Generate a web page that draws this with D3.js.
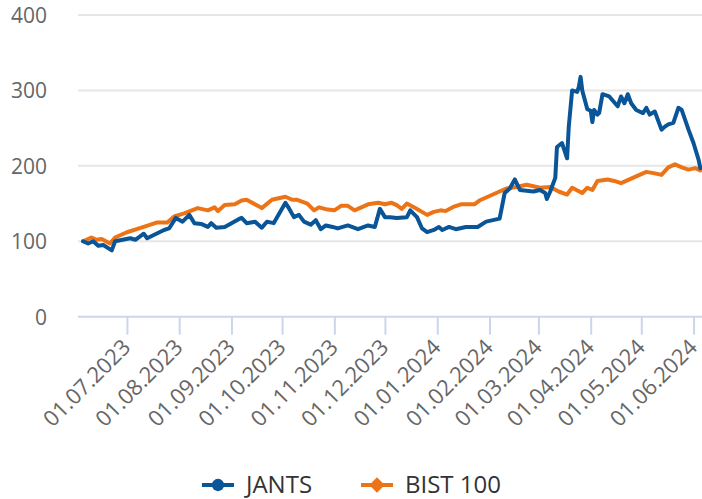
<!DOCTYPE html>
<html lang="tr">
<head>
<meta charset="UTF-8">
<title>JANTS - BIST 100</title>
<script src="https://cdn.jsdelivr.net/npm/d3@7"></script>
<style>
  html, body { margin: 0; padding: 0; background: #fff; }
  svg { display: block; font-family: "Open Sans", sans-serif; }
  .grid line { stroke: #e6e6e6; stroke-width: 2; }
  .ylab { fill: #666; font-size: 21px; }
  .xlab { fill: #666; font-size: 22px; }
  .legend text { fill: #333; font-size: 24px; }
</style>
</head>
<body>
<div id="chart"></div>
<script>
// values (normalised, start = 100)
var jantsDates = ["2023-06-05","2023-06-08","2023-06-11","2023-06-14","2023-06-17","2023-06-22","2023-06-24",
  "2023-07-03","2023-07-06","2023-07-11","2023-07-13","2023-07-23","2023-07-26","2023-07-30",
  "2023-08-03","2023-08-07","2023-08-10","2023-08-14","2023-08-18","2023-08-20","2023-08-23","2023-08-28",
  "2023-09-01","2023-09-05","2023-09-07","2023-09-10","2023-09-15","2023-09-19","2023-09-22","2023-09-26",
  "2023-10-03","2023-10-05","2023-10-08","2023-10-11","2023-10-14","2023-10-18","2023-10-21","2023-10-24","2023-10-27","2023-10-31",
  "2023-11-03","2023-11-09","2023-11-15","2023-11-21","2023-11-25","2023-11-28",
  "2023-12-01","2023-12-04","2023-12-08","2023-12-14","2023-12-16","2023-12-20","2023-12-23","2023-12-26","2023-12-30",
  "2024-01-02","2024-01-04","2024-01-08","2024-01-12","2024-01-18","2024-01-21","2024-01-25","2024-01-30",
  "2024-02-03","2024-02-07","2024-02-10","2024-02-13","2024-02-16","2024-02-19","2024-02-23","2024-02-27",
  "2024-03-02","2024-03-05","2024-03-06","2024-03-08","2024-03-11","2024-03-12","2024-03-15","2024-03-18","2024-03-19",
  "2024-03-21","2024-03-24","2024-03-25","2024-03-26","2024-03-27","2024-03-30",
  "2024-04-01","2024-04-02","2024-04-03","2024-04-05","2024-04-06","2024-04-08","2024-04-12","2024-04-17","2024-04-19",
  "2024-04-21","2024-04-23","2024-04-25","2024-04-28",
  "2024-05-02","2024-05-04","2024-05-06","2024-05-09","2024-05-13","2024-05-15","2024-05-17","2024-05-20","2024-05-23",
  "2024-05-25","2024-05-27","2024-05-29","2024-06-01","2024-06-04","2024-06-05"];
var jantsValues = [100,97,100,94,95,88,100,
  104,102,110,104,115,117,131,
  126,135,124,123,119,124,118,119,
  124,129,131,124,126,118,126,124,
  151,144,132,135,126,122,128,116,121,119,
  117,121,116,121,119,143,
  132,132,131,132,141,132,117,112,115,
  119,115,119,116,119,119,119,126,
  128,130,164,170,182,168,167,166,
  168,164,156,166,184,225,230,210,252,
  300,298,305,318,300,275,
  273,258,274,268,270,295,292,279,292,
  283,295,283,274,
  270,277,268,272,248,252,255,257,277,
  274,261,248,230,208,197];

var bistDates = ["2023-06-05","2023-06-10","2023-06-13","2023-06-16","2023-06-21","2023-06-24",
  "2023-07-01","2023-07-11","2023-07-19","2023-07-25","2023-07-29",
  "2023-08-04","2023-08-12","2023-08-18","2023-08-22","2023-08-24","2023-08-28",
  "2023-09-03","2023-09-07","2023-09-10","2023-09-19","2023-09-25",
  "2023-10-03","2023-10-07","2023-10-10","2023-10-16","2023-10-20","2023-10-23","2023-10-28",
  "2023-11-01","2023-11-05","2023-11-09","2023-11-13","2023-11-17","2023-11-21","2023-11-27",
  "2023-12-01","2023-12-05","2023-12-08","2023-12-11","2023-12-14","2023-12-19","2023-12-26","2023-12-30",
  "2024-01-03","2024-01-06","2024-01-11","2024-01-15","2024-01-23","2024-01-26","2024-01-31",
  "2024-02-05","2024-02-11","2024-02-17","2024-02-23","2024-02-29",
  "2024-03-02","2024-03-08","2024-03-13","2024-03-18","2024-03-21","2024-03-27","2024-03-30",
  "2024-04-02","2024-04-05","2024-04-11","2024-04-15","2024-04-19","2024-04-23","2024-04-28",
  "2024-05-04","2024-05-09","2024-05-13","2024-05-17","2024-05-21","2024-05-25","2024-05-29",
  "2024-06-02","2024-06-05"];
var bistValues = [100,105,102,103,97,105,
  112,119,125,125,133,
  137,144,141,145,140,148,
  149,154,155,144,155,
  159,155,155,150,141,145,142,
  141,147,147,141,145,149,151,
  149,151,148,143,150,144,135,139,
  141,140,146,149,149,154,159,
  164,170,172,175,172,
  171,172,166,162,171,164,171,
  168,180,182,180,177,181,186,
  192,190,188,198,202,198,195,
  197,194];

var yTicks = [0, 100, 200, 300, 400];
var xTicks = ["2023-07-01","2023-08-01","2023-09-01","2023-10-01","2023-11-01","2023-12-01",
  "2024-01-01","2024-02-01","2024-03-01","2024-04-01","2024-05-01","2024-06-01"];
var seriesNames = ["JANTS", "BIST 100"];
var seriesColors = ["#0a5597", "#ec7417"];

var width = 702, height = 499;
var plot = {left: 78, right: 702, top: 15, bottom: 316.7};

var parse = d3.timeParse("%Y-%m-%d");
var fmt = d3.timeFormat("%d.%m.%Y");

var series = [
  jantsDates.map(function (d, i) { return {date: parse(d), value: jantsValues[i]}; }),
  bistDates.map(function (d, i) { return {date: parse(d), value: bistValues[i]}; })
];

var svg = d3.select("#chart").append("svg")
  .attr("width", width)
  .attr("height", height);

var x = d3.scaleTime()
  .domain([new Date(2023, 5, 2), new Date(2024, 5, 6)])
  .range([plot.left, plot.right]);
var y = d3.scaleLinear()
  .domain([0, 400])
  .range([plot.bottom, plot.top]);

// horizontal grid
svg.append("g").attr("class", "grid")
  .selectAll("line")
  .data(yTicks.filter(function (t) { return t > 0; }))
  .enter().append("line")
  .attr("x1", plot.left).attr("x2", plot.right)
  .attr("y1", function (d) { return y(d); })
  .attr("y2", function (d) { return y(d); });

// y labels
svg.append("g")
  .selectAll("text")
  .data(yTicks)
  .enter().append("text")
  .attr("class", "ylab")
  .attr("x", 47)
  .attr("y", function (d) { return y(d) + 8; })
  .attr("text-anchor", "end")
  .text(function (d) { return d; });

// x axis
var xAxis = svg.append("g")
  .attr("transform", "translate(0," + plot.bottom + ")")
  .call(d3.axisBottom(x)
    .tickValues(xTicks.map(parse))
    .tickSize(18)
    .tickFormat(""));
xAxis.select(".domain")
  .attr("stroke", "#ccd6eb").attr("stroke-width", 2)
  .attr("d", "M" + plot.left + ",0H" + plot.right);
xAxis.selectAll(".tick line").attr("stroke", "#ccd6eb").attr("stroke-width", 2);

svg.append("g")
  .selectAll("text")
  .data(xTicks)
  .enter().append("text")
  .attr("class", "xlab")
  .attr("text-anchor", "end")
  .attr("transform", function (d) {
    return "translate(" + (x(parse(d)) + 5) + "," + (plot.bottom + 32) + ") rotate(-45)";
  })
  .text(function (d) { return fmt(parse(d)); });

// lines
var line = d3.line()
  .x(function (d) { return x(d.date); })
  .y(function (d) { return y(d.value); });

svg.append("g")
  .selectAll("path")
  .data(series.slice().reverse())
  .enter().append("path")
  .attr("d", line)
  .attr("fill", "none")
  .attr("stroke", function (d, i) { return seriesColors[1 - i]; })
  .attr("stroke-width", 4)
  .attr("stroke-linejoin", "round")
  .attr("stroke-linecap", "round");

// legend
var legend = svg.append("g").attr("class", "legend");
var legendX = [202, 361];
var item = legend.selectAll("g")
  .data(seriesNames)
  .enter().append("g")
  .attr("transform", function (d, i) { return "translate(" + legendX[i] + ",485)"; });

item.append("line")
  .attr("x1", 0).attr("x2", 32)
  .attr("stroke", function (d, i) { return seriesColors[i]; })
  .attr("stroke-width", 4);

item.append("path")
  .attr("transform", "translate(16,0)")
  .attr("d", function (d, i) {
    return d3.symbol().type(i === 0 ? d3.symbolCircle : d3.symbolDiamond2).size(i === 0 ? 120 : 150)();
  })
  .attr("fill", function (d, i) { return seriesColors[i]; });

item.append("text")
  .attr("x", 44)
  .attr("y", 8)
  .text(function (d) { return d; });
</script>
</body>
</html>
